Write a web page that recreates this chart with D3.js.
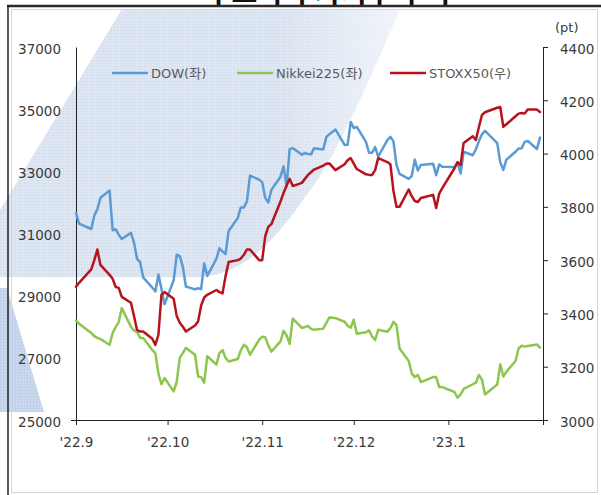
<!DOCTYPE html>
<html><head><meta charset="utf-8">
<script src="https://cdn.jsdelivr.net/npm/d3@7"></script>
<style>
html,body{margin:0;padding:0;background:#fff;}
svg{display:block;}
text{font-family:"DejaVu Sans","Noto Sans CJK KR",sans-serif;}
</style></head><body>
<svg id="chart" width="601" height="495"></svg>
<script>
// Trading days shown on the chart
const dates = [
 "2022-09-01","2022-09-02","2022-09-06","2022-09-07","2022-09-08","2022-09-09","2022-09-12","2022-09-13","2022-09-14","2022-09-15","2022-09-16","2022-09-19","2022-09-20","2022-09-21","2022-09-22","2022-09-23","2022-09-26","2022-09-27","2022-09-28","2022-09-29","2022-09-30",
 "2022-10-03","2022-10-04","2022-10-05","2022-10-06","2022-10-07","2022-10-10","2022-10-11","2022-10-12","2022-10-13","2022-10-14","2022-10-17","2022-10-18","2022-10-19","2022-10-20","2022-10-21","2022-10-24","2022-10-25","2022-10-26","2022-10-27","2022-10-28","2022-10-31",
 "2022-11-01","2022-11-02","2022-11-03","2022-11-04","2022-11-07","2022-11-08","2022-11-09","2022-11-10","2022-11-11","2022-11-14","2022-11-15","2022-11-16","2022-11-17","2022-11-18","2022-11-21","2022-11-22","2022-11-23","2022-11-25","2022-11-28","2022-11-29","2022-11-30",
 "2022-12-01","2022-12-02","2022-12-05","2022-12-06","2022-12-07","2022-12-08","2022-12-09","2022-12-12","2022-12-13","2022-12-14","2022-12-15","2022-12-16","2022-12-19","2022-12-20","2022-12-21","2022-12-22","2022-12-23","2022-12-27","2022-12-28","2022-12-29","2022-12-30",
 "2023-01-03","2023-01-04","2023-01-05","2023-01-06","2023-01-09","2023-01-10","2023-01-11","2023-01-12","2023-01-13","2023-01-17","2023-01-18","2023-01-19","2023-01-20","2023-01-23","2023-01-24","2023-01-25","2023-01-26","2023-01-27","2023-01-30","2023-01-31"
];

// Dow Jones Industrial Average (left axis)
const dow = [
 31656,31318,31145,31581,31775,32152,32381,31105,31135,30962,30822,31020,30706,30184,30077,29590,29260,29135,29684,29226,28726,
 29491,30317,30274,29927,29297,29203,29240,29211,30039,29635,30186,30524,30424,30334,31083,31500,31837,31839,32034,32862,32733,
 32653,32148,31999,32403,32827,33161,32514,33716,33748,33537,33593,33554,33547,33746,33700,34098,34195,34347,33850,33853,34590,
 34395,34430,33947,33597,33598,33781,33476,34005,34108,33966,33203,32920,32757,32850,33377,33027,33204,33241,32876,33221,33147,
 33136,33270,32930,33631,33518,33704,33974,34190,34303,33911,33297,33045,33375,33630,33734,33744,33949,33978,33717,34086
];

// Nikkei 225 (left axis)
const nikkei = [
 28200,28100,27800,27700,27640,27600,27420,27800,27990,28150,28600,28000,27880,27830,27640,27640,27250,27150,26500,26150,26350,
 25920,26230,27000,27150,27320,27100,26400,26380,26200,27050,26780,27150,27250,27000,26880,26960,27250,27420,27340,27100,27580,
 27680,27660,27400,27200,27530,27870,27720,27450,28260,27960,27990,28030,27930,27900,27940,28120,28300,28280,28160,28030,27970,
 28226,27777,27820,27885,27686,27574,27901,27842,27954,28156,28051,27300,26900,26500,26380,26450,26220,26380,26380,26060,26060,
 25900,25720,25820,26000,26150,26200,26450,26300,25820,26140,26790,26400,26550,26900,27300,27390,27360,27380,27430,27330
];

// Euro STOXX 50 (right axis)
const stoxx = [
 3500,3515,3565,3600,3640,3582,3545,3530,3499,3496,3462,3440,3390,3338,3332,3332,3305,3282,3320,3470,3480,
 3455,3390,3365,3350,3332,3355,3370,3430,3460,3470,3488,3480,3475,3540,3593,3600,3606,3620,3640,3640,3600,
 3600,3690,3725,3735,3820,3852,3880,3905,3878,3890,3905,3920,3930,3940,3955,3962,3963,3938,3960,3975,3983,
 3962,3942,3922,3920,3920,3938,3983,3968,3960,3860,3800,3800,3865,3840,3822,3818,3833,3845,3796,3850,3870,
 3945,3968,3957,4040,4065,4051,4100,4145,4155,4172,4175,4100,4110,4140,4150,4152,4150,4165,4165,4156
];

const leftTicks = [25000,27000,29000,31000,33000,35000,37000];
const rightTicks = [3000,3200,3400,3600,3800,4000,4200,4400];
const monthTicks = ["2022-09-01","2022-10-01","2022-11-01","2022-12-01","2023-01-01","2023-02-01"];
const monthLabels = ["'22.9","'22.10","'22.11","'22.12","'23.1",""];
const seriesNames = ["DOW(좌)","Nikkei225(좌)","STOXX50(우)"];
const seriesColors = ["#5b9bd5","#8cc64e","#b8131d"];
const titleText = "주요국 주가지수 추이";

const parse = d3.utcParse("%Y-%m-%d");
const svg = d3.select("#chart");

// ---- background emblem ----
const defs = svg.append("defs");
function mesh(id, fill, line) {
  const p = defs.append("pattern").attr("id", id).attr("width", 3).attr("height", 3)
    .attr("patternUnits", "userSpaceOnUse");
  p.append("rect").attr("width", 3).attr("height", 3).attr("fill", fill);
  p.append("path").attr("d", "M0,0.5H3M0.5,0V3").attr("stroke", line).attr("stroke-width", 0.8);
}
mesh("mesh", "#e0e8f4", "#d4dfee");
mesh("meshDark", "#ccdaee", "#c0d0e8");

const fade = defs.append("linearGradient").attr("id", "fade")
  .attr("x1", 0).attr("y1", 0).attr("x2", 1).attr("y2", 0);
fade.append("stop").attr("offset", "0%").attr("stop-color", "#fff").attr("stop-opacity", 0);
fade.append("stop").attr("offset", "70%").attr("stop-color", "#fff").attr("stop-opacity", 0);
fade.append("stop").attr("offset", "100%").attr("stop-color", "#fff").attr("stop-opacity", 0.6);

const bg = svg.append("g");
const emblem = "M122,9 L400,9 C365,90 335,160 303,200 C272,245 240,275 200,277 L0,277 L0,210 Z";
bg.append("path").attr("d", emblem).attr("fill", "url(#mesh)");
bg.append("path").attr("d", emblem).attr("fill", "url(#fade)");
bg.append("path").attr("d", "M0,288 L7,288 L44,412 L0,412 Z").attr("fill", "url(#meshDark)");

// ---- frame ----
defs.append("clipPath").attr("id", "topClip").append("rect")
  .attr("x", 0).attr("y", 0).attr("width", 601).attr("height", 5);
svg.append("text").attr("x", 328).attr("y", 3).attr("text-anchor", "middle")
  .attr("clip-path", "url(#topClip)")
  .attr("font-size", 28).attr("font-weight", "bold").attr("fill", "#111")
  .style("font-family", "'Noto Sans CJK KR',sans-serif").text(titleText);
svg.append("rect").attr("x", 11.5).attr("y", 9.5).attr("width", 586).attr("height", 483)
  .attr("fill", "none").attr("stroke", "#d6d6d6").attr("stroke-width", 1);
svg.append("line").attr("x1", 7).attr("x2", 601).attr("y1", 6).attr("y2", 6)
  .attr("stroke", "#2b2b2b").attr("stroke-width", 2.5);
svg.append("line").attr("x1", 8).attr("x2", 8).attr("y1", 5).attr("y2", 495)
  .attr("stroke", "#222").attr("stroke-width", 1.5);

// ---- scales ----
const x = d3.scaleUtc().domain([parse("2022-09-01"), parse("2023-02-01")]).range([76, 543]);
const yL = d3.scaleLinear().domain([25000, 37000]).range([420, 47]);
const yR = d3.scaleLinear().domain([3000, 4400]).range([420, 47]);

const labelColor = "#3a3a3a";

// left axis
const gL = svg.append("g").attr("transform", "translate(76,0)")
  .call(d3.axisLeft(yL).tickValues(leftTicks).tickSize(0).tickPadding(15).tickFormat(d3.format("d")));
gL.select(".domain").attr("stroke", "#222");
gL.selectAll("text").attr("font-size", 13.5).attr("fill", labelColor)
  .attr("font-family", "DejaVu Sans").attr("dy", "0.45em");

// right axis
const gR = svg.append("g").attr("transform", "translate(543,0)")
  .call(d3.axisRight(yR).tickValues(rightTicks).tickSizeInner(5).tickSizeOuter(0).tickPadding(12).tickFormat(d3.format("d")));
gR.select(".domain").attr("stroke", "#222");
gR.selectAll(".tick line").attr("stroke", "#222");
gR.selectAll("text").attr("font-size", 13.5).attr("fill", labelColor)
  .attr("font-family", "DejaVu Sans").attr("dy", "0.45em");
svg.append("text").attr("x", 555).attr("y", 32).attr("font-size", 13).attr("fill", labelColor).text("(pt)");

// bottom axis
const gB = svg.append("g").attr("transform", "translate(0,420)")
  .call(d3.axisBottom(x).tickValues(monthTicks.map(parse)).tickSize(5).tickPadding(12)
    .tickFormat((d, i) => monthLabels[i]));
gB.select(".domain").attr("d", "M71,0.5H548").attr("stroke", "#222");
gB.selectAll(".tick line").attr("stroke", "#222");
gB.selectAll("text").attr("font-size", 13.5).attr("fill", labelColor).attr("font-family", "DejaVu Sans");

// ---- series ----
const rows = dates.map((d, i) => ({date: parse(d), dow: dow[i], nikkei: nikkei[i], stoxx: stoxx[i]}));
const series = [
  {key: "dow", scale: yL},
  {key: "nikkei", scale: yL},
  {key: "stoxx", scale: yR}
];
const plot = svg.append("g");
series.forEach((s, i) => {
  const line = d3.line().x(d => x(d.date)).y(d => s.scale(d[s.key]));
  plot.append("path").datum(rows).attr("d", line)
    .attr("fill", "none").attr("stroke", seriesColors[i]).attr("stroke-width", 2.5)
    .attr("stroke-linejoin", "round").attr("stroke-linecap", "round");
});

// ---- legend ----
const legendX = [112, 237, 390];
const leg = svg.append("g");
seriesNames.forEach((name, i) => {
  leg.append("line").attr("x1", legendX[i]).attr("x2", legendX[i] + 36).attr("y1", 73).attr("y2", 73)
    .attr("stroke", seriesColors[i]).attr("stroke-width", 2.5);
  leg.append("text").attr("x", legendX[i] + 39).attr("y", 73).attr("dy", "0.36em")
    .attr("font-size", 13).attr("fill", "#5a5a5a").text(name);
});
</script>
</body></html>
